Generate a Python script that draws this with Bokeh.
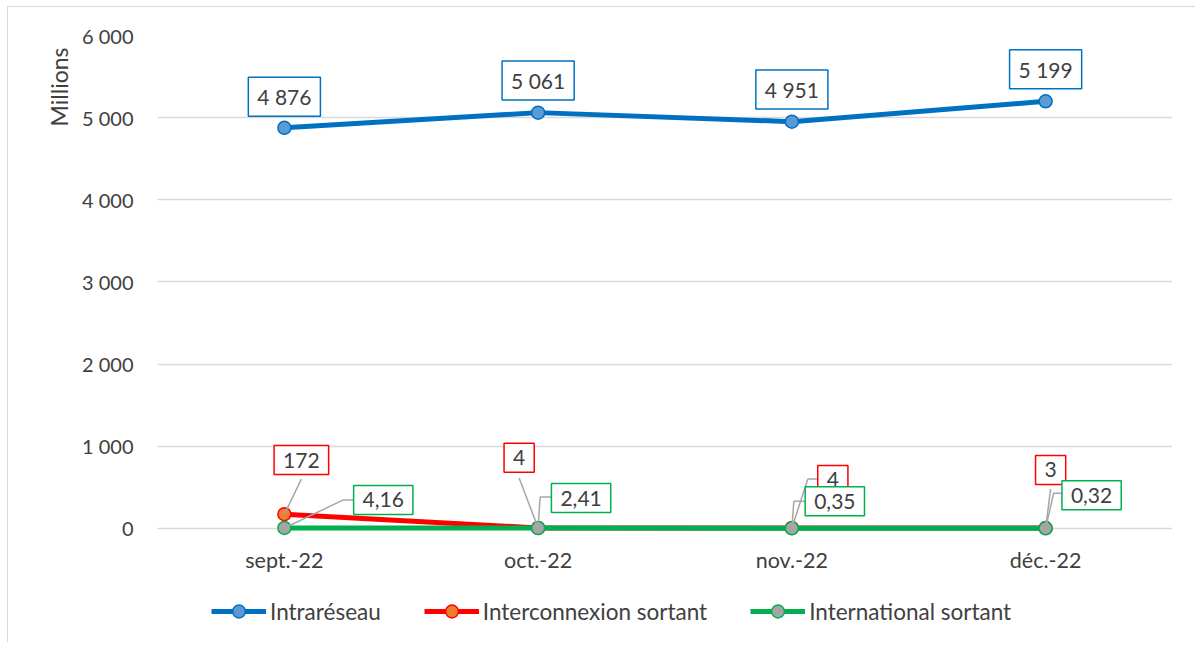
from bokeh.plotting import figure
from bokeh.models import (ColumnDataSource, FixedTicker, Legend, LegendItem, Range1d,
                          Title)
from bokeh.core.properties import value
from bokeh.embed import file_html
from bokeh.resources import INLINE

# ---- data ----
months = ["sept.-22", "oct.-22", "nov.-22", "déc.-22"]
intrareseau = [4876, 5061, 4951, 5199]
interconnexion = [172, 4, 4, 3]
international = [4.16, 2.41, 0.35, 0.32]
y_ticks = [0, 1000, 2000, 3000, 4000, 5000, 6000]
y_tick_labels = ["0", "1 000", "2 000", "3 000", "4 000", "5 000", "6 000"]

series_names = ["Intraréseau", "Interconnexion sortant", "International sortant"]

# ---- style / layout ----
FONT = "Lato"
TXT = "#404040"
GRID = "#D9D9D9"
LEADER = "#A6A6A6"
BLUE, BLUE_F = "#0070C0", "#5B9BD5"
RED, RED_F = "#FF0000", "#ED7D31"
GREEN, GREEN_F = "#00B050", "#A5A5A5"

# pixel -> data conversion (frame 1016 px over 4 categories, 492 px over 6000)
PX_X = 4.0 / 1016
PX_Y = 6000.0 / 492
Y_BOTTOM = -110 * PX_Y   # frame extends below 0 to host axis labels and legend

xs = list(range(len(months)))

p = figure(width=1188, height=636, output_backend="svg", toolbar_location=None,
           x_range=Range1d(-0.5, 3.5), y_range=Range1d(Y_BOTTOM, 6000),
           min_border_left=149, min_border_right=24, min_border_top=28,
           min_border_bottom=5)
p.styles = {"border-left": f"1px solid {GRID}", "border-top": f"1px solid {GRID}",
            "margin-left": "7px", "margin-top": "6px"}
p.outline_line_color = None
p.background_fill_color = "white"
p.border_fill_color = "white"

p.xgrid.grid_line_color = None
p.ygrid.grid_line_color = GRID
p.ygrid.grid_line_width = 1.3

p.yaxis.ticker = FixedTicker(ticks=y_ticks)
p.yaxis.major_label_overrides = {t: l for t, l in zip(y_ticks, y_tick_labels)}
p.xaxis.ticker = FixedTicker(ticks=xs)
p.xaxis.major_label_overrides = {i: m for i, m in enumerate(months)}
p.xaxis.fixed_location = 0
for ax in (p.xaxis, p.yaxis):
    ax.axis_line_color = None
    ax.major_tick_line_color = None
    ax.minor_tick_line_color = None
    ax.major_tick_out = 0
    ax.major_tick_in = 0
    ax.major_label_text_font = FONT
    ax.major_label_text_color = TXT
p.yaxis.major_label_text_font_size = "20px"
p.xaxis.major_label_text_font_size = "21.5px"
p.yaxis.major_label_standoff = 24
p.xaxis.major_label_standoff = 19

ytitle = Title(text="Millions", align="right", offset=12, text_font=FONT,
               text_font_size="23px", text_color=TXT, text_font_style="normal",
               standoff=12)
p.add_layout(ytitle, "left")

series = [
    (intrareseau, BLUE, BLUE_F),
    (interconnexion, RED, RED_F),
    (international, GREEN, GREEN_F),
]
legend_items = []
for name, (vals, lc, fc) in zip(series_names, series):
    src = ColumnDataSource(dict(x=xs, y=vals))
    ln = p.line("x", "y", source=src, line_color=lc, line_width=5)
    sc = p.scatter("x", "y", source=src, size=13, fill_color=fc, line_color=lc,
                   line_width=1.5)
    legend_items.append(LegendItem(label=name, renderers=[ln, sc]))

# ---- data labels (offsets in screen px: dx right, dy down) ----
blue_off = [(0, -31), (0, -32), (0, -32), (0, -32)]
red_off = [(17, -54), (-19, -70), (41, -48), (5, -58)]
green_off = [(99, -28), (43, -30), (43, -27), (46, -33)]

red_leader = [[(0, 0), (17, -35)], [(0, 0), (-19, -50)],
              [(0, 0), (16, -49), (27, -49)], [(0, 0), (5, -39)]]
green_leader = [[(0, 0), (59, -28), (70, -28)], [(0, 0), (2, -31), (14, -31)],
                [(0, 0), (2, -27), (13, -27)], [(0, 0), (8, -35), (17, -35)]]

lx, ly = [], []
for vals, leaders in ((interconnexion, red_leader), (international, green_leader)):
    for i, (v, pts) in enumerate(zip(vals, leaders)):
        lx.append([i + dx * PX_X for dx, dy in pts])
        ly.append([v - dy * PX_Y for dx, dy in pts])
p.multi_line(lx, ly, line_color=LEADER, line_width=1.5)


def fmt_blue(v):
    return f"{v:,}".replace(",", " ")


def fmt_green(v):
    return f"{v:.2f}".replace(".", ",")


label_sets = [
    (intrareseau, blue_off, [fmt_blue(v) for v in intrareseau], BLUE),
    (interconnexion, red_off, [str(v) for v in interconnexion], RED),
    (international, green_off, [fmt_green(v) for v in international], GREEN),
]
for vals, offs, texts, col in label_sets:
    src = ColumnDataSource(dict(
        x=[i + dx * PX_X for i, (dx, dy) in enumerate(offs)],
        y=[v - dy * PX_Y for v, (dx, dy) in zip(vals, offs)],
        t=texts))
    p.text("x", "y", text="t", source=src, text_font=value(FONT),
           text_font_size="21px", text_color=TXT, text_align="center",
           text_baseline="middle", background_fill_color="white",
           border_line_color=col, border_line_width=1.5,
           padding=dict(left=9, right=9, top=7, bottom=7))

legend = Legend(items=legend_items, orientation="horizontal", location=(54, 11),
                label_text_font=FONT, label_text_font_size="22.5px",
                label_text_color=TXT, glyph_width=55, glyph_height=32,
                label_standoff=4, spacing=43, border_line_color=None,
                background_fill_alpha=0, padding=4, margin=0)
p.add_layout(legend, "center")

open("out.html", "w").write(file_html(p, INLINE))
